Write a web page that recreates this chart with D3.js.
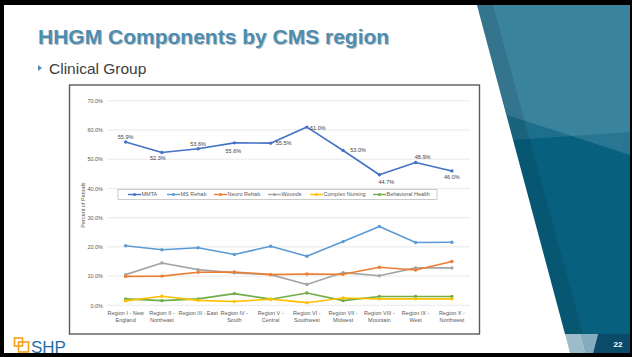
<!DOCTYPE html>
<html>
<head>
<meta charset="utf-8">
<script src="https://cdn.jsdelivr.net/npm/d3@7"></script>
<style>
  body { margin: 0; background: #000; }
  svg { display: block; }
  text { font-family: "Liberation Sans", Arial, sans-serif; }
</style>
</head>
<body>
<div id="slide"></div>
<script>
/**
 * DATA
 * */
const regionLines = [
  ["Region I - New", "England"],
  ["Region II -", "Northeast"],
  ["Region III - East"],
  ["Region IV -", "South"],
  ["Region V -", "Central"],
  ["Region VI -", "Southwest"],
  ["Region VII -", "Midwest"],
  ["Region VIII -", "Mountain"],
  ["Region IX -", "West"],
  ["Region X -", "Northwest"]
];
const regions = regionLines.map(d => d.join(" "));

const seriesNames = ["MMTA", "MS Rehab", "Neuro Rehab", "Wounds", "Complex Nursing", "Behavioral Health"];
const mmta = [55.9, 52.3, 53.6, 55.6, 55.5, 61.0, 53.0, 44.7, 48.9, 46.0];
const msRehab = [20.4, 19.0, 19.7, 17.4, 20.2, 16.8, 21.8, 27.0, 21.5, 21.6];
const neuroRehab = [9.9, 10.0, 11.3, 11.4, 10.5, 10.7, 10.6, 13.0, 12.1, 15.0];
const wounds = [10.5, 14.5, 12.2, 11.1, 10.5, 7.1, 11.2, 10.1, 12.8, 12.8];
const complexNursing = [1.5, 3.1, 1.7, 1.3, 2.1, 0.9, 2.5, 2.2, 2.2, 2.2];
const behavioralHealth = [2.2, 1.6, 2.2, 4.0, 2.1, 4.2, 1.6, 3.0, 3.0, 3.0];
const yTicks = [0, 10, 20, 30, 40, 50, 60, 70];

const allSeries = [mmta, msRehab, neuroRehab, wounds, complexNursing, behavioralHealth];
const colors = ["#4472c4", "#5b9bd5", "#ed7d31", "#a5a5a5", "#ffc000", "#70ad47"];
// label nudges for the MMTA data labels (dx, dy from the point)
const mmtaLabelNudge = [[0,-5],[-4,5.5],[0,-5],[-1,8],[13,0],[11,0.5],[15,0],[7,7],[7,-5],[0,6.5]];

/**
 * SLIDE FRAME
 * */
const width = 632, height = 357;
const svg = d3.select("#slide").append("svg")
  .attr("width", width).attr("height", height);

svg.append("rect").attr("width", width).attr("height", height).attr("fill", "#000");
svg.append("rect").attr("x", 4).attr("y", 5).attr("width", 626).attr("height", 348).attr("fill", "#fff");

// right side decoration
const deco = svg.append("g");
deco.append("polygon").attr("points", "477,5 630,5 630,334 565,334").attr("fill", "#08607f");
deco.append("polygon").attr("points", "477,5 630,5 630,155 507,115").attr("fill", "#d6ecf7").attr("opacity", 0.16);
deco.append("polygon").attr("points", "477,5 630,5 630,132 513,140").attr("fill", "#d6ecf7").attr("opacity", 0.11);
deco.append("polygon").attr("points", "477,5 493,5 583,334 565,334").attr("fill", "#000").attr("opacity", 0.1);
deco.append("polygon").attr("points", "565,334 580,334 585,353 570,353").attr("fill", "#9dbccb");
deco.append("polygon").attr("points", "580,334 598,334 593,353 585,353").attr("fill", "#84abbe");
deco.append("polygon").attr("points", "598,334 630,334 630,353 593,353").attr("fill", "#0b4a68");
deco.append("text").attr("x", 618).attr("y", 347).attr("text-anchor", "middle")
  .attr("fill", "#fff").attr("font-size", 8).attr("font-weight", "bold").text("22");

// title
svg.append("text").attr("x", 39).attr("y", 45).attr("font-size", 21).attr("font-weight", "bold")
  .attr("fill", "#000").attr("opacity", 0.25).text("HHGM Components by CMS region");
svg.append("text").attr("x", 38).attr("y", 44).attr("font-size", 21).attr("font-weight", "bold")
  .attr("fill", "#4d8db0").text("HHGM Components by CMS region");

svg.append("path").attr("d", "M38,65 L42,68 L38,71 Z").attr("fill", "#4d8db0");
svg.append("text").attr("x", 49).attr("y", 74).attr("font-size", 15.5)
  .attr("fill", "#404040").text("Clinical Group");

// logo
const logo = svg.append("g").attr("fill", "none").attr("stroke", "#f5a01a").attr("stroke-width", 1.6);
logo.append("rect").attr("x", 14.5).attr("y", 338).attr("width", 8).attr("height", 8);
logo.append("rect").attr("x", 18.5).attr("y", 342).attr("width", 10).attr("height", 10);
svg.append("text").attr("x", 31).attr("y", 353).attr("font-size", 17)
  .attr("fill", "#1f6fa8").text("SHP");

/**
 * CHART
 * */
svg.append("rect").attr("x", 69.5).attr("y", 85).attr("width", 410).attr("height", 249)
  .attr("fill", "#fff").attr("stroke", "#5a5a5a").attr("stroke-width", 1.4);

const x = d3.scaleBand().domain(regions).range([107.5, 470]).padding(0);
const y = d3.scaleLinear().domain([0, 70]).range([305.3, 100.8]);

const grid = svg.append("g");
grid.selectAll("line").data(yTicks).join("line")
  .attr("x1", 107.5).attr("x2", 470)
  .attr("y1", d => y(d)).attr("y2", d => y(d))
  .attr("stroke", "#e3e3e3").attr("stroke-width", 0.8);

const yAxis = d3.axisLeft(y).tickValues(yTicks).tickSize(0).tickPadding(0)
  .tickFormat(d => d.toFixed(1) + "%");
svg.append("g").attr("transform", "translate(103,0)").call(yAxis)
  .call(g => g.select(".domain").remove())
  .call(g => g.selectAll("text").attr("font-size", 5.5).attr("fill", "#595959")
    .attr("font-family", "Liberation Sans, Arial, sans-serif"));

svg.append("text").attr("transform", "translate(85,205) rotate(-90)")
  .attr("text-anchor", "middle").attr("font-size", 5.5).attr("fill", "#595959")
  .text("Percent of Periods");

// category labels
const xl = svg.append("g");
regionLines.forEach((lines, i) => {
  const t = xl.append("text").attr("text-anchor", "middle").attr("font-size", 5.5)
    .attr("fill", "#595959");
  lines.forEach((ln, j) => {
    t.append("tspan").attr("x", x(regions[i]) + x.bandwidth() / 2)
      .attr("y", 314.5 + j * 7.8).text(ln);
  });
});

// lines and markers (drawn bottom-up so MMTA sits on top)
const line = d3.line()
  .x((d, i) => x(regions[i]) + x.bandwidth() / 2)
  .y(d => y(d));

const order = [5, 4, 3, 2, 1, 0];
order.forEach(s => {
  const g = svg.append("g");
  g.append("path").datum(allSeries[s]).attr("d", line)
    .attr("fill", "none").attr("stroke", colors[s]).attr("stroke-width", 1.6)
    .attr("stroke-linejoin", "round");
  g.selectAll("circle").data(allSeries[s]).join("circle")
    .attr("cx", (d, i) => x(regions[i]) + x.bandwidth() / 2)
    .attr("cy", d => y(d)).attr("r", 1.7).attr("fill", colors[s]);
});

// MMTA data labels
svg.append("g").selectAll("text").data(mmta).join("text")
  .attr("x", (d, i) => x(regions[i]) + x.bandwidth() / 2 + mmtaLabelNudge[i][0])
  .attr("y", (d, i) => y(d) + mmtaLabelNudge[i][1])
  .attr("dy", "0.35em").attr("text-anchor", "middle")
  .attr("font-size", 5.5).attr("fill", "#404040")
  .text(d => d.toFixed(1) + "%");

// legend
const legendX = [128, 167, 214, 268, 310, 373];
svg.append("rect").attr("x", 118).attr("y", 189.5).attr("width", 319).attr("height", 10)
  .attr("fill", "#fff").attr("stroke", "#bfbfbf").attr("stroke-width", 0.8);
const legend = svg.append("g").selectAll("g").data(seriesNames).join("g")
  .attr("transform", (d, i) => `translate(${legendX[i]},194.5)`);
legend.append("line").attr("x1", 0).attr("x2", 13)
  .attr("stroke", (d, i) => colors[i]).attr("stroke-width", 1.4);
legend.append("circle").attr("cx", 6.5).attr("r", 1.5).attr("fill", (d, i) => colors[i]);
legend.append("text").attr("x", 13.5).attr("dy", "0.35em").attr("font-size", 5.5)
  .attr("fill", "#595959").text(d => d);
</script>
</body>
</html>
